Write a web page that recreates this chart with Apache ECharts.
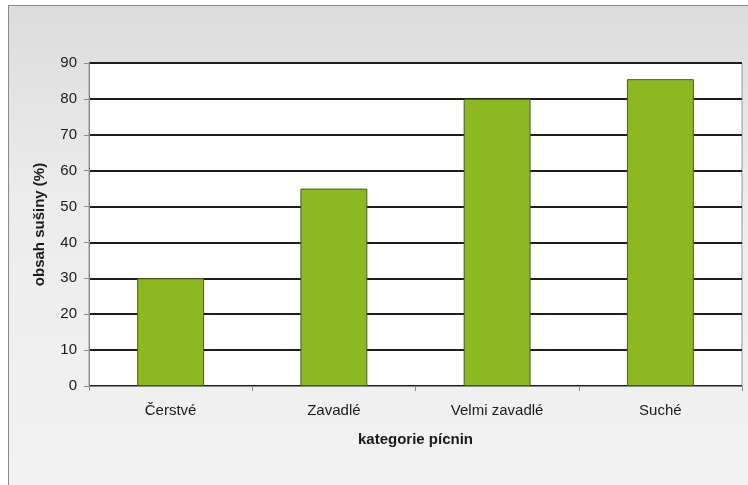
<!DOCTYPE html>
<html>
<head>
<meta charset="utf-8">
<script src="https://cdn.jsdelivr.net/npm/echarts@6/dist/echarts.min.js"></script>
<style>
  html, body { margin: 0; padding: 0; background: #fff; }
  #frame {
    position: absolute; left: 8px; top: 5px; width: 740px; height: 480px;
    border-left: 1px solid #8a8a8a; border-top: 1px solid #8a8a8a;
    background: linear-gradient(180deg, #dcdcdc 0%, #ececec 40%, #f2f2f2 100%);
  }
  #chart { position: absolute; left: 0; top: 0; width: 748px; height: 485px; }
</style>
</head>
<body>
<div id="frame"></div>
<div id="chart"></div>
<script>
const categories = ['Čerstvé', 'Zavadlé', 'Velmi zavadlé', 'Suché'];
const drySubstance = [30, 55, 80, 85.5];
const yTicks = [0, 10, 20, 30, 40, 50, 60, 70, 80, 90];

const chart = echarts.init(document.getElementById('chart'), undefined, { renderer: 'canvas' });
const font = '"Liberation Sans", Arial, sans-serif';

chart.setOption({
  backgroundColor: 'transparent',
  animation: false,
  grid: {
    left: 89, right: 6, top: 63, bottom: 99,
    show: true, backgroundColor: '#fff', borderColor: '#9a9a9a', borderWidth: 1,
  },
  xAxis: {
    type: 'category',
    data: categories,
    name: 'kategorie pícnin',
    nameLocation: 'middle',
    nameGap: 46,
    nameTextStyle: { color: '#1a1a1a', fontSize: 15, fontWeight: 'bold', fontFamily: font },
    axisLine: { lineStyle: { color: '#8a8a8a', width: 1 } },
    axisTick: { show: true, alignWithLabel: false, length: 5, lineStyle: { color: '#8a8a8a' } },
    axisLabel: { color: '#1a1a1a', fontSize: 15, fontFamily: font, margin: 17 },
  },
  yAxis: {
    type: 'value',
    min: yTicks[0],
    max: yTicks[yTicks.length - 1],
    interval: 10,
    name: 'obsah sušiny (%)',
    nameLocation: 'middle',
    nameGap: 42,
    nameRotate: 90,
    nameTextStyle: { color: '#1a1a1a', fontSize: 15, fontWeight: 'bold', fontFamily: font },
    axisLine: { show: true, lineStyle: { color: '#8a8a8a', width: 1 } },
    axisTick: { show: true, length: 5, lineStyle: { color: '#8a8a8a' } },
    axisLabel: { color: '#1a1a1a', fontSize: 15, fontFamily: font, margin: 12 },
    splitLine: { show: true, lineStyle: { color: '#1e1e1e', width: 2 } },
  },
  series: [
    {
      type: 'bar',
      data: drySubstance,
      barWidth: '41%',
      itemStyle: { color: '#8cb922', borderColor: '#4d5a22', borderWidth: 1 },
    },
  ],
});
</script>
</body>
</html>
